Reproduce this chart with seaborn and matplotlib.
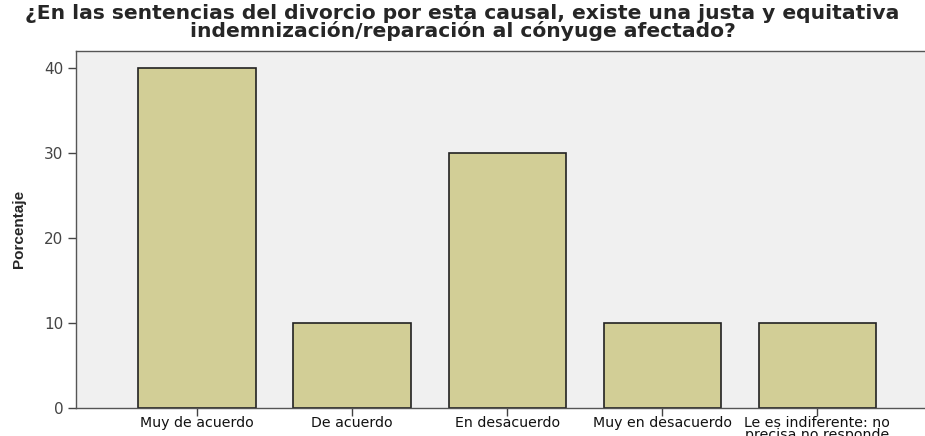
import matplotlib
matplotlib.use('Agg')
import matplotlib.pyplot as plt
import seaborn as sns
import pandas as pd

# Data
categorias = ['Muy de acuerdo', 'De acuerdo', 'En desacuerdo', 'Muy en desacuerdo',
              'Le es indiferente: no\nprecisa no responde']
porcentaje = [40, 10, 30, 10, 10]

df = pd.DataFrame({'Categoria': categorias, 'Porcentaje': porcentaje})

sns.set_style('white')
plt.rcParams['font.family'] = ['Liberation Sans', 'DejaVu Sans']

fig = plt.figure(figsize=(9.25, 4.36), dpi=100)
ax = fig.add_axes([0.0822, 0.0642, 0.932, 0.8195])
ax.set_facecolor('#F0F0F0')

sns.barplot(data=df, x='Categoria', y='Porcentaje', color='#D2CE96',
            edgecolor='#222222', linewidth=1.2, width=0.755, saturation=1, ax=ax)

ax.set_xlim(-0.78, 4.78)
ax.set_ylim(0, 42.08)
ax.set_yticks([0, 10, 20, 30, 40])
ax.set_xlabel('')
ax.set_ylabel('Porcentaje', fontsize=11, fontweight='bold')
ax.yaxis.set_label_coords(-0.058, 0.5)

for s in ax.spines.values():
    s.set_color('#555555')
    s.set_linewidth(1.0)

ax.tick_params(axis='both', which='both', length=6, width=1, color='#444444',
               direction='out', bottom=True, left=True)
ax.tick_params(axis='x', labelcolor='#111111', pad=0)
ax.tick_params(axis='y', labelcolor='#444444', pad=3)
for lbl in ax.get_xticklabels():
    lbl.set_family('DejaVu Sans')
    lbl.set_fontsize(10.2)
    lbl.set_linespacing(0.78)
for lbl in ax.get_yticklabels():
    lbl.set_family('DejaVu Sans')
    lbl.set_fontsize(11)

fig.suptitle('¿En las sentencias del divorcio por esta causal, existe una justa y equitativa\n'
             'indemnización/reparación al cónyuge afectado?',
             x=0.5, y=0.99, fontsize=14.6, fontweight='bold', linespacing=0.85,
             family=['DejaVu Sans'])

fig.savefig('out.png', dpi=100)
